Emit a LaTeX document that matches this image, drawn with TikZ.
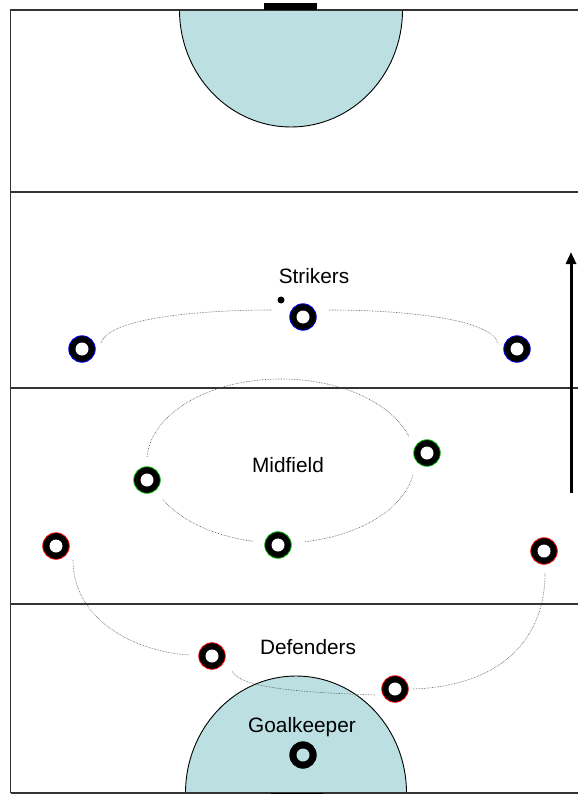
\documentclass[tikz,border=0pt]{standalone}
\usepackage{fontspec}
\setmainfont{Liberation Sans}
\usetikzlibrary{arrows.meta,calc}
\definecolor{boxfill}{RGB}{188,224,226}
\begin{document}
\begin{tikzpicture}[x=1pt,y=-1pt,
  fieldline/.style={draw=black!80,line width=1.2pt},
  arcline/.style={draw=black,line width=0.9pt},
  runline/.style={draw=black!70,line width=0.6pt,densely dotted},
  player/.style={circle,inner sep=0pt,minimum size=26.5pt,fill=black,draw=#1,line width=0.8pt,
     path picture={\fill[white] (path picture bounding box.center) circle[radius=6.5pt];}},
  keeper/.style={circle,inner sep=0pt,minimum size=26.5pt,fill=black,draw=black,line width=0.8pt,
     path picture={\fill[boxfill] (path picture bounding box.center) circle[radius=6.5pt];}},
  lbl/.style={font=\fontsize{20.8}{24}\selectfont,inner sep=0pt},
  goalbar/.style={fill=black}
]
\useasboundingbox (0,0) rectangle (578,794);

% goal areas
\filldraw[fill=boxfill,arcline] (179.5,10) arc[start angle=180,end angle=360,x radius=111.5pt,y radius=117pt];
\filldraw[fill=boxfill,arcline] (185.5,793) arc[start angle=180,end angle=0,x radius=110.5pt,y radius=117pt];

% field lines
\draw[fieldline] (10.5,793) -- (10.5,10) -- (578,10);
\draw[fieldline] (10.5,793) -- (578,793);
\draw[fieldline] (10.5,192) -- (578,192);
\draw[fieldline] (10.5,388) -- (578,388);
\draw[fieldline] (10.5,604) -- (578,604);

% goals
\fill[goalbar] (264,3) rectangle (317,10);
\fill[goalbar] (271,793) rectangle (323,797);

% run lines
\coordinate (sl1) at (101,343);
\coordinate (sl2) at (272,310);
\coordinate (sr1) at (329,310);
\coordinate (sr2) at (498,343);
\draw[runline] (sl1) .. controls (108,318) and (200,310) .. (sl2);
\draw[runline] (sr1) .. controls (400,310) and (490,318) .. (sr2);

\coordinate (mc) at (281,461);
\draw[runline] (mc) ++(177:134pt and 82pt) arc[start angle=177,end angle=17,x radius=134pt,y radius=82pt];
\draw[runline] (mc) ++(-10:134pt and 82pt) arc[start angle=-10,end angle=-80,x radius=134pt,y radius=82pt];
\draw[runline] (mc) ++(-102:134pt and 82pt) arc[start angle=-102,end angle=-152,x radius=134pt,y radius=82pt];

\coordinate (d1) at (73,560);
\coordinate (d2) at (190,655);
\coordinate (d3) at (232,671);
\coordinate (d4) at (376,695);
\coordinate (d5) at (413,689);
\coordinate (d6) at (545,573);
\draw[runline] (d1) .. controls (73,620) and (135,652) .. (d2);
\draw[runline] (d3) .. controls (240,690) and (320,693) .. (d4);
\draw[runline] (d5) .. controls (500,686) and (545,640) .. (d6);

% players
\node[player=blue] (st1) at (82,349) {};
\node[player=blue] (st2) at (303,317) {};
\node[player=blue] (st3) at (517,349) {};
\node[player=green!70!black] (mf1) at (147,480) {};
\node[player=green!70!black] (mf2) at (427,453) {};
\node[player=green!70!black] (mf3) at (278,545) {};
\node[player=red] (df1) at (56,546) {};
\node[player=red] (df2) at (544,551) {};
\node[player=red] (df3) at (212,656) {};
\node[player=red] (df4) at (395,689) {};
\node[keeper] (gk) at (303,755) {};

% ball
\fill (281,300) circle[radius=3.5pt];
\node[circle,inner sep=0pt,minimum size=7pt] (ball) at (281,300) {};

% labels
\node[lbl] (tstr) at (314,276) {Strikers};
\node[lbl] (tmid) at (288,465) {Midfield};
\node[lbl] (tdef) at (308,647) {Defenders};
\node[lbl] (tgk) at (302,727) {Goalkeeper};

% attack direction
\coordinate (a1) at (571,493);
\coordinate (a2) at (571,252);
\draw[line width=3pt,-{Triangle[width=10pt,length=12pt]}] (a1) -- (a2);
\end{tikzpicture}
\end{document}
